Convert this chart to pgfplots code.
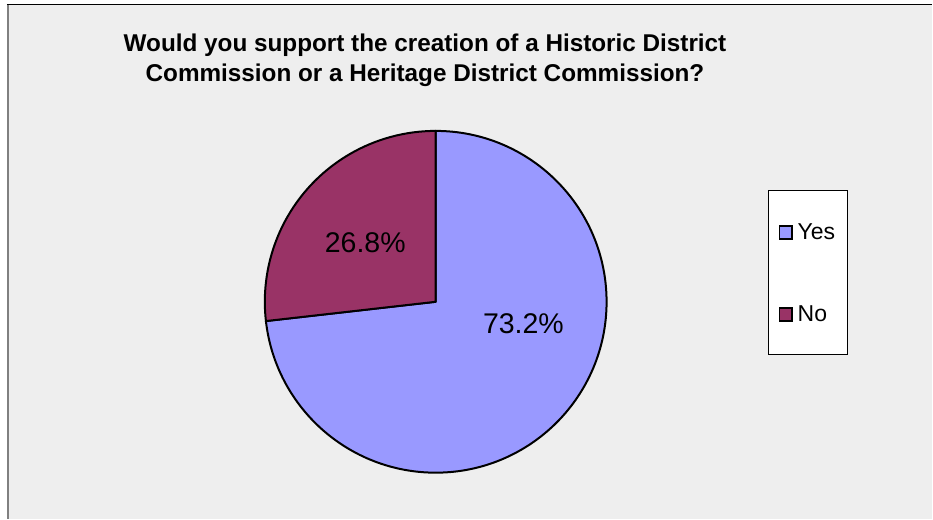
\documentclass[border=0pt]{standalone}
\usepackage{pgfplots}
\pgfplotsset{compat=1.18}
\usepackage{pgfplotstable}
\usepackage{fontspec}
\setmainfont{Liberation Sans}
\definecolor{yescol}{HTML}{9999FF}
\definecolor{nocol}{HTML}{993366}
\definecolor{bgcol}{HTML}{EEEEEE}
\definecolor{framecol}{HTML}{808080}

\pgfplotstableread{
label value
Yes 73.2
No 26.8
}\piedata

\begin{document}
\begin{tikzpicture}
\pgfplotstablegetelem{0}{value}\of\piedata\let\yesval\pgfplotsretval
\pgfplotstablegetelem{1}{value}\of\piedata\let\noval\pgfplotsretval
\pgfmathsetmacro\yesend{90-3.6*\yesval}
\pgfmathsetmacro\noend{90+3.6*\noval}
\begin{axis}[
  width=933pt, height=519pt, scale only axis,
  xmin=0, xmax=933, ymin=0, ymax=519,
  hide axis, clip=false,
  legend style={at={(axis cs:768.3,328.7)}, anchor=north west,
    draw=black, line width=0.8pt, fill=white,
    font=\fontsize{23}{27}\selectfont,
    inner xsep=10.5pt, inner ysep=30.8pt, row sep=62pt,
    cells={anchor=base west},
    nodes={text height=16pt, text depth=0pt, inner sep=2pt},
    /tikz/every odd column/.append style={column sep=2.6pt}},
  legend image code/.code={\draw[#1, line width=1.8pt] (0pt,0.6pt) rectangle (12.6pt,13.2pt);},
]
\fill[white] (axis cs:0,0) rectangle (axis cs:933,519);
\fill[bgcol] (axis cs:8,0) rectangle (axis cs:933,514.5);
\draw[framecol, line width=2pt] (axis cs:8,0) -- (axis cs:8,514.5);
\draw[black, line width=1.3pt] (axis cs:7,514.5) -- (axis cs:933,514.5);

\filldraw[fill=yescol, draw=black, line width=2pt, line join=round]
  (axis cs:436,217) -- ++(90:171pt) arc[start angle=90, end angle=\yesend, radius=171pt] -- cycle;
\filldraw[fill=nocol, draw=black, line width=2pt, line join=round]
  (axis cs:436,217) -- ++(90:171pt) arc[start angle=90, end angle=\noend, radius=171pt] -- cycle;

\node[anchor=base, font=\bfseries\fontsize{24.3}{29}\selectfont] at (axis cs:425.3,467.3)
  {Would you support the creation of a Historic District};
\node[anchor=base, font=\bfseries\fontsize{24.3}{29}\selectfont] at (axis cs:425.3,437.3)
  {Commission or a Heritage District Commission?};

\node[anchor=base, font=\fontsize{28.5}{34}\selectfont] at (axis cs:365.5,266.3) {\noval\%};
\node[anchor=base, font=\fontsize{28.5}{34}\selectfont] at (axis cs:523.8,185.7) {\yesval\%};

\addlegendimage{fill=yescol, draw=black}
\addlegendentry{Yes}
\addlegendimage{fill=nocol, draw=black}
\addlegendentry{No}
\end{axis}
\end{tikzpicture}
\end{document}
